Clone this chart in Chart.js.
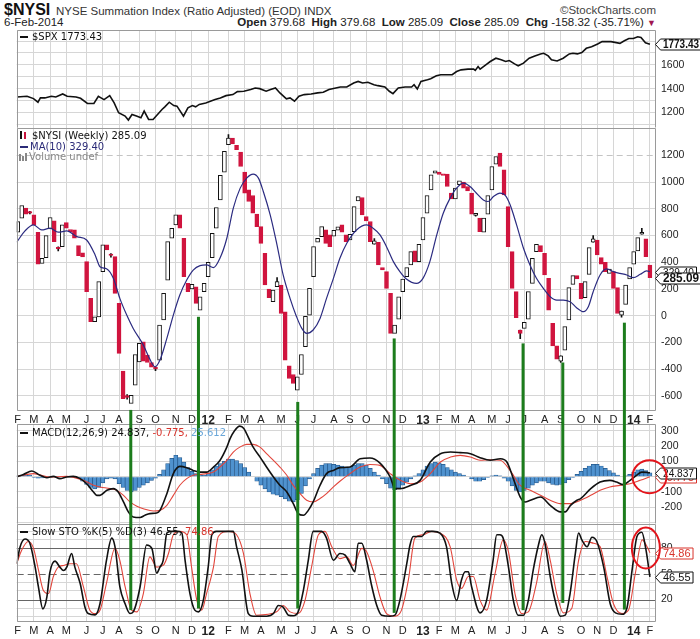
<!DOCTYPE html>
<html>
<head>
<meta charset="utf-8">
<title>$NYSI weekly</title>
<script src="https://cdn.jsdelivr.net/npm/chart.js@4.4.1/dist/chart.umd.min.js"></script>
<style>
  html, body { margin: 0; padding: 0; background: #fff; }
  body { width: 700px; height: 639px; position: relative; overflow: hidden; font-family: 'Liberation Sans', Arial, sans-serif; color: #111; }
  .panel { position: absolute; left: 0; width: 700px; }
  .txt { position: absolute; white-space: nowrap; }
  .lg { position: absolute; white-space: nowrap; font: 10px 'DejaVu Sans', sans-serif; line-height: 12px; color: #111; }
  .mark { position: absolute; }
</style>
</head>
<body>
<div class="txt" style="left:4px;top:2px;font:bold 16px/16px 'Liberation Sans',Arial,sans-serif;">$NYSI</div>
<div class="txt" style="left:56px;top:6px;font:11.5px/11.5px 'Liberation Sans',Arial,sans-serif;color:#333;">NYSE Summation Index (Ratio Adjusted) (EOD) INDX</div>
<div class="txt" style="right:44px;top:5px;font:11.5px/11.5px 'Liberation Sans',Arial,sans-serif;color:#444;">&copy;StockCharts.com</div>
<div class="txt" style="left:4px;top:17px;font:11.5px/11.5px 'Liberation Sans',Arial,sans-serif;color:#222;">6-Feb-2014</div>
<div class="txt" style="right:44px;top:17px;font:11.5px/11.5px 'Liberation Sans',Arial,sans-serif;color:#222;"><b>Open</b> 379.68 &nbsp;<b>High</b> 379.68 &nbsp;<b>Low</b> 285.09 &nbsp;<b>Close</b> 285.09 &nbsp;<b>Chg</b> -158.32 (-35.71%) <span style="color:#a0174f;font-size:9px">&#9660;</span></div>

<div class="panel" style="top:30px;height:98px"><canvas id="spx"></canvas></div>
<div class="panel" style="top:128px;height:296px"><canvas id="nysi"></canvas></div>
<div class="panel" style="top:424px;height:100px"><canvas id="macd"></canvas></div>
<div class="panel" style="top:524px;height:115px"><canvas id="sto"></canvas></div>

<div class="mark" style="left:20px;top:36px;width:8px;height:2px;background:#111"></div>
<div class="lg" style="left:32px;top:31px">$SPX 1773.43</div>

<div class="mark" style="left:20px;top:131px;width:2px;height:8px;background:#111"></div>
<div class="mark" style="left:24px;top:132px;width:2px;height:7px;background:#c8143c"></div>
<div class="lg" style="left:32px;top:130px">$NYSI (Weekly) 285.09</div>
<div class="mark" style="left:20px;top:146px;width:8px;height:2px;background:#2b2b78"></div>
<div class="lg" style="left:30px;top:141px;color:#2b2b78">MA(10) 329.40</div>
<div class="mark" style="left:19px;top:154px;width:2px;height:7px;background:#888"></div>
<div class="mark" style="left:22px;top:156px;width:2px;height:5px;background:#888"></div>
<div class="mark" style="left:25px;top:153px;width:2px;height:8px;background:#888"></div>
<div class="lg" style="left:29px;top:151px;color:#888">Volume undef</div>

<div class="mark" style="left:20px;top:432px;width:8px;height:2px;background:#111"></div>
<div class="lg" style="left:32px;top:427px">MACD(12,26,9) 24.837, <span style="color:#d8332b">-0.775,</span> <span style="color:#6aa6d8">25.612</span></div>

<div class="mark" style="left:20px;top:531px;width:8px;height:2px;background:#111"></div>
<div class="lg" style="left:32px;top:526px">Slow STO %K(5) %D(3) 46.55, <span style="color:#d8332b">74.86</span></div>

<script>
// semanas: 0 = semana del 7-feb-2011, 156 = semana del 3-feb-2014
const monthWeeks = [0, 4, 8, 12, 17, 21, 25, 30, 34, 39, 43, 47, 52, 56, 60, 65, 69, 73, 78, 82, 86, 91, 95,
  100, 104, 108, 112, 117, 121, 125, 130, 134, 139, 143, 147, 152, 156];
const monthLabels = ['F', 'M', 'A', 'M', 'J', 'J', 'A', 'S', 'O', 'N', 'D', '12', 'F', 'M', 'A', 'M', 'J', 'J', 'A', 'S', 'O', 'N', 'D',
  '13', 'F', 'M', 'A', 'M', 'J', 'J', 'A', 'S', 'O', 'N', 'D', '14', 'F'];

// $SPX
const spxWeeks = [-0.2, 2.3, 3.9, 5, 5.6, 6.7, 8.3, 9.4, 11.1, 12.2,
  14.4, 15.5, 17.2, 18.8, 19.9, 21.3, 22.7, 23.8, 24.9, 26.5,
  27.3, 28.2, 29.3, 30.4, 31.2, 32.3, 33.4, 34.5, 35.6, 36.3,
  37.4, 38.5, 39.3, 40.9, 42, 43.1, 43.9, 44.8, 46.4, 48.7,
  50, 51.4, 53.1, 54.2, 55.8, 57.5, 58.6, 59.7, 61.3, 62.4,
  63.6, 64.7, 66.3, 67.2, 68.3, 69.4, 70.7, 72.4, 74, 75.4,
  76.8, 78.5, 79.6, 81.2, 82.9, 84, 85.1, 86.4, 87.9, 88.9,
  90.6, 91.7, 92.6, 93.9, 95.6, 97.2, 97.8, 98.6, 99.5, 101.1,
  101.9, 103.3, 104.4, 106.1, 107.2, 108.3, 109.4, 111.1, 112.5, 112.9,
  113.6, 114.1, 115.5, 116.6, 118, 119.3, 120.4, 121.3, 122.6, 123.5,
  124.8, 126.2, 127.6, 129, 129.8, 130.9, 131.7, 133.1, 134.6, 136.1,
  137, 138.1, 139.2, 140.3, 141.6, 143.1, 144.2, 146.4, 148.6, 149.7,
  150.8, 151.9, 153, 153.8, 154.9, 156];
const spxValues = [1330, 1336, 1316, 1286, 1322, 1322, 1336, 1330, 1355, 1336,
  1330, 1319, 1275, 1275, 1336, 1308, 1341, 1280, 1197, 1169,
  1136, 1183, 1169, 1155, 1211, 1141, 1141, 1183, 1225, 1247,
  1286, 1258, 1253, 1169, 1239, 1258, 1247, 1267, 1280, 1308,
  1322, 1341, 1350, 1375, 1378, 1392, 1405, 1400, 1378, 1392,
  1405, 1364, 1314, 1322, 1294, 1336, 1350, 1355, 1364, 1369,
  1392, 1405, 1414, 1414, 1447, 1461, 1447, 1453, 1433, 1425,
  1414, 1378, 1358, 1405, 1414, 1414, 1433, 1397, 1461, 1475,
  1483, 1508, 1517, 1517, 1517, 1544, 1558, 1564, 1564, 1553,
  1586, 1564, 1600, 1628, 1656, 1642, 1628, 1636, 1608, 1592,
  1614, 1656, 1675, 1692, 1697, 1675, 1642, 1633, 1656, 1692,
  1697, 1692, 1703, 1739, 1753, 1775, 1795, 1795, 1781, 1803,
  1822, 1822, 1836, 1831, 1786, 1773.43];

// $NYSI velas semanales (apertura / cierre)
const nysiOpen = [625, 730, 805, 780, 755, 625, 392, 435, 650, 710,
  512, 517, 697, 645, 642, 525, 470, 405, 130, -45,
  -8, 330, 530, 462, 442, 92, -415, -598, -657, -520,
  -345, -195, -295, -350, -385, -332, -32, 267, 580, 680,
  755, 580, 242, 200, 217, 42, 180, 292, 435, 655,
  867, 1075, 1280, 1330, 1275, 1225, 1075, 942, 900, 760,
  667, 467, 200, 105, 217, 230, 30, -375, -440, -557,
  -440, -232, 5, 292, 550, 592, 642, 605, 595, 640,
  680, 605, 567, 630, 860, 885, 742, 705, 535, 550,
  360, 330, 167, -132, -25, 180, 292, 380, 485, 405,
  567, 767, 942, 1067, 1075, 1062, 1060, 917, 875, 980,
  1000, 967, 917, 750, 730, 625, 760, 942, 1135, 1217,
  1092, 817, 480, 180, -107, -95, -25, 242, 480, 525,
  467, 280, -57, -225, -340, -257, -32, 235, 300, 242,
  135, 310, 550, 567, 435, 400, 317, 330, 210, 5,
  85, 275, 385, 485, 610, 575, 379.68];
const nysiClose = [705, 825, 760, 768, 680, 385, 430, 600, 735, 555,
  500, 680, 655, 628, 580, 450, 440, 180, -45, -8,
  255, 530, 492, 452, 167, -282, -620, -612, -595, -290,
  -207, -340, -350, -385, -398, -70, 167, 555, 655, 755,
  655, 292, 180, 235, 92, 142, 242, 400, 617, 810,
  1050, 1230, 1330, 1285, 1242, 1117, 917, 855, 767, 667,
  542, 230, 135, 192, 255, 17, -332, -470, -507, -457,
  -290, 0, 205, 517, 580, 667, 542, 517, 640, 665,
  625, 555, 610, 817, 892, 755, 710, 555, 560, 380,
  342, 205, -132, -70, 142, 275, 360, 480, 405, 535,
  735, 900, 1055, 1085, 1058, 1050, 967, 875, 955, 1010,
  955, 935, 760, 767, 630, 730, 900, 1117, 1192, 1117,
  905, 517, 205, -15, -132, -50, 180, 430, 535, 480,
  305, 42, -225, -325, -300, -82, 210, 300, 275, 125,
  255, 510, 575, 455, 385, 330, 350, 205, 17, 35,
  230, 360, 480, 585, 625, 442, 285.09];
const wickWeeks = [3, 10, 23, 27, 34, 52, 64, 88, 113, 124, 134, 142, 149, 154];
const wickLow = [762, 485, 438, -625, -412, 1280, 217, 535, 745, -172, -350, 550, -10, 610];
const wickHigh = [782, 515, 465, -590, -385, 1355, 285, 578, 767, -107, -300, 600, 35, 655];

// MA(10)
const maWeeks = [-0.25, 1.8, 3.9, 5.9, 8, 10, 12.1, 14.6, 17, 19.1,
  20.3, 22, 23.6, 25.2, 26.9, 28.5, 31, 32.6, 33.9, 35.1,
  36.8, 38.4, 40, 41.7, 43.3, 45, 46.6, 48.3, 49.9, 51.6,
  53.2, 54.9, 56.5, 58.1, 59.4, 60.6, 62.3, 63.9, 65.5, 67.2,
  68.8, 70.1, 71.3, 72.9, 74.6, 76.2, 77.9, 79.5, 81.2, 83.6,
  86.1, 87.7, 89.4, 91, 92.7, 94.3, 95.9, 98.4, 100, 101.7,
  103.4, 105, 106.7, 108.3, 110, 111.6, 113.2, 114.9, 116.1, 117.4,
  119, 120.3, 121.5, 123.1, 124.8, 126.4, 128, 129.7, 131.4, 133,
  134.6, 136.3, 137.9, 139.6, 140.8, 142, 143.7, 145.3, 147, 148.6,
  150.3, 151.9, 153.6, 155.2, 156];
const maValues = [550, 635, 680, 642, 655, 625, 635, 592, 567, 455,
  367, 350, 280, 130, 5, -95, -220, -325, -382, -332,
  -170, 5, 155, 267, 342, 375, 380, 360, 430, 580,
  805, 955, 1030, 1060, 1030, 930, 755, 542, 305, 130,
  -7, -95, -132, -107, -20, 130, 280, 430, 542, 642,
  680, 655, 605, 517, 405, 330, 275, 242, 280, 405,
  605, 767, 880, 955, 992, 967, 917, 867, 855, 892,
  917, 900, 830, 680, 505, 380, 280, 205, 142, 117,
  117, 105, 60, 30, 67, 180, 305, 350, 330, 317,
  305, 285, 310, 335, 329.4];

// MACD(12,26,9)
const macdWeeks = [-0.2, 1.4, 3.5, 5.5, 7.2, 8.8, 10.4, 12.1, 13.7, 15.4,
  17, 18.7, 19.5, 20.3, 22, 23.6, 24.8, 26.1, 27.3, 28.5,
  30.2, 31.4, 32.6, 34.3, 35.1, 36.8, 38.4, 40, 41.7, 43.3,
  45, 46.6, 48.3, 49.9, 51.6, 52.4, 53.5, 54.8, 55.8, 56.5,
  58.1, 59.8, 61.4, 63.1, 64.7, 66.4, 68, 69.2, 70.5, 71.7,
  72.9, 74.6, 76.2, 77.9, 79.5, 82, 84.5, 86.9, 89.4, 91.9,
  93.1, 94.4, 96.9, 99.3, 101.8, 104.3, 106.8, 109.2, 111.7, 114.1,
  116.6, 119.1, 120.7, 122.3, 124, 125.2, 126.5, 129, 131.4, 133.9,
  135.1, 136.4, 138, 138.9, 141.4, 143.7, 146.1, 147.8, 149.4, 151.1,
  152.7, 154, 155.2, 156];
const macdValues = [0, 15, 37, 9, -7, 2, -13, -2, 2, -13,
  -46, -100, -122, -122, -89, -78, -100, -165, -230, -263,
  -267, -252, -241, -237, -220, -111, 20, 67, 59, 41,
  30, 30, 63, 106, 193, 248, 300, 330, 315, 280,
  193, 128, 63, -2, -56, -100, -176, -241, -252, -220,
  -165, -56, 20, 41, 59, 63, 117, 122, 89, -2,
  -78, -78, -57, -24, 96, 150, 161, 157, 150, 124,
  107, 117, 96, -13, -133, -165, -154, -133, -187, -230,
  -230, -187, -154, -143, -78, -35, -24, -35, -52, -24,
  9, 30, 28, 24.837];
const signalWeeks = [-0.2, 3.9, 7.8, 12.1, 16.2, 18.7, 20.3, 22.8, 24.4, 26.1,
  27.7, 29.4, 31, 33.5, 35.1, 36.8, 38.4, 40, 41.7, 43.3,
  45, 46.6, 48.3, 49.9, 51.6, 53.2, 54.8, 56.5, 58.1, 59.8,
  61.4, 63.1, 64.7, 66.4, 68, 69.7, 71.3, 72.9, 74.6, 76.2,
  77.9, 79.5, 82, 84.5, 86.9, 89.4, 91.9, 94.4, 96.9, 99.3,
  101.8, 104.3, 106.8, 109.2, 111.7, 114.1, 116.6, 119.1, 121.5, 124,
  126.5, 129, 131.4, 133.9, 136.4, 138.9, 141.4, 143.7, 146.1, 148.6,
  151.1, 153.6, 156];
const signalValues = [2, 20, -2, 2, -24, -56, -67, -78, -89, -122,
  -165, -193, -209, -224, -220, -187, -122, -56, -13, 9,
  15, 20, 30, 63, 107, 161, 193, 211, 211, 193,
  150, 107, 63, 9, -57, -111, -154, -165, -143, -111,
  -67, -30, 20, 63, 80, 74, 20, -24, -46, -35,
  20, 96, 128, 139, 128, 107, 111, 107, 41, -57,
  -89, -122, -154, -176, -176, -154, -122, -89, -67, -57,
  -46, -24, -0.775];
const histValues = [5, 10, 12, 10, -5, -10, -8, -5, 0, 3,
  -3, 2, 3, 0, -3, -10, -30, -50, -70, -80,
  -70, -40, -15, -10, -15, -45, -70, -90, -100, -90,
  -70, -55, -40, -25, -10, 15, 45, 85, 120, 140,
  125, 95, 60, 35, 20, 12, 10, 25, 45, 70,
  85, 100, 115, 115, 105, 85, 60, 30, 0, -30,
  -55, -80, -100, -115, -120, -130, -145, -160, -165, -150,
  -110, -60, -15, 20, 55, 75, 85, 85, 80, 75,
  70, 65, 60, 75, 85, 85, 75, 55, 30, 10,
  -15, -45, -75, -85, -75, -55, -35, -15, 5, 20,
  45, 70, 85, 95, 90, 80, 60, 45, 30, 20,
  10, 0, -15, -30, -30, -20, -5, 5, 10, 5,
  -10, -30, -60, -90, -100, -90, -75, -55, -40, -30,
  -30, -40, -50, -55, -50, -40, -20, -5, 15, 35,
  55, 70, 80, 80, 70, 55, 40, 25, 10, 0,
  5, 15, 30, 45, 50, 40, 25.612];

// Slow STO %K(5) %D(3)
const kWeeks = [-0.25, 0.6, 1.8, 3, 4.3, 5.1, 6.2, 7.2, 7.9, 9.2,
  10.4, 11.3, 12.1, 13.3, 14.1, 15.4, 16.6, 17.4, 19.1, 20.3,
  21.9, 23.2, 24, 25.2, 26.5, 27.7, 28.5, 30.2, 31.8, 33.1,
  34.3, 35.1, 35.9, 36.8, 38, 39.5, 40.5, 41.3, 42.5, 43.7,
  44.6, 45.8, 47, 47.9, 49, 53.2, 54, 55.3, 56.9, 58.1,
  61.4, 63.1, 64.3, 65.5, 66.8, 68, 69.2, 70.5, 71.7, 72.9,
  75, 76.2, 77.9, 79.5, 80.8, 82, 83.2, 84, 84.9, 86.1,
  87.3, 88.6, 89.8, 91.9, 93.1, 94.3, 96, 96.8, 97.6, 99.7,
  100.9, 102.5, 104.2, 105.8, 107.1, 108.3, 109.5, 110.4, 111.2, 112,
  114.1, 115.7, 117.3, 118.2, 119, 119.8, 121.1, 122.3, 123.5, 124.8,
  126, 127.2, 128.5, 129.3, 130.1, 131.4, 132.6, 133.9, 135.1, 136.3,
  137.6, 138.4, 139.2, 140.5, 141.7, 142.9, 144.6, 146.2, 147.5, 149.1,
  150.3, 151.6, 152.8, 154, 155, 156];
const kValues = [62, 82, 91, 86, 58, 35, 9, 23, 51, 65,
  58, 54, 58, 74, 58, 39, 11, 3.5, 2, 15,
  66, 92, 82, 35, 15, 3.5, 5.5, 35, 84, 80,
  51, 58, 66, 98, 100, 100, 98, 66, 27, 7.5,
  5.5, 19, 58, 96, 100, 100, 82, 55, 3.5, 0.4,
  0.4, 3.5, 13, 11, 1.6, 1, 5.5, 31, 66, 100,
  100, 92, 66, 74, 72, 62, 52.5, 86, 86, 66,
  37, 13, 1.6, 0.4, 1.6, 19, 62, 84, 94, 94,
  100, 100, 98, 82, 39, 19, 43, 52.5, 52.5, 35,
  4.3, 19, 66, 96, 96, 92, 58, 19, 1.6, 1.6,
  19, 54.5, 84, 96, 86, 47, 19, 0.4, 1.6, 27,
  74, 98, 90, 82, 93, 88, 58, 15, 4.3, 2.7,
  9.4, 54.5, 94, 99, 79, 46.55];
const dWeeks = [-0.25, 1, 2.6, 3.9, 5.1, 6.3, 7.6, 8.8, 10, 11.3,
  12.9, 14.5, 16.2, 17.8, 19.1, 20.3, 21.9, 24, 25.2, 26.5,
  28.1, 29.4, 31, 32.6, 34.3, 35.9, 37.2, 38.4, 40, 41.7,
  42.9, 44.2, 45.4, 46.6, 48.3, 49.5, 52, 54, 55.7, 57.3,
  58.9, 63.9, 65.5, 67.2, 69.2, 70.9, 72.5, 74.2, 75.8, 77.5,
  79.5, 81.2, 82.8, 84.9, 86.1, 87.8, 89.4, 91, 93.1, 94.7,
  96.4, 98, 100.1, 102.1, 104.2, 106.7, 108.3, 109.5, 111.2, 112.4,
  114.1, 115.7, 117.8, 119.8, 121.1, 122.7, 124.4, 126, 128, 130.1,
  131.4, 133, 134.7, 136.7, 138.4, 140.1, 142.1, 143.7, 145.4, 147,
  149.1, 150.7, 152.4, 154.1, 155.3, 156];
const dValues = [62, 78, 88, 80, 55, 31, 27, 47, 58, 60,
  62, 62, 35, 7.5, 3.5, 7.5, 39, 80, 66, 35,
  7.5, 5.5, 27, 70, 58, 60, 74, 96, 100, 96,
  58, 19, 7.5, 27, 58, 94, 100, 96, 74, 27,
  1.6, 5.5, 13, 5.5, 3.5, 19, 58, 96, 100, 82,
  68, 70, 60, 80, 76, 52.5, 23, 3.5, 0.4, 7.5,
  43, 92, 96, 100, 98, 82, 43, 33, 47, 47,
  19, 7.5, 50.6, 90, 76, 27, 3.5, 5.5, 39, 88,
  66, 27, 4.3, 9.4, 66, 88, 86, 82, 47, 15,
  3.5, 7.5, 50.6, 90, 82, 74.86];

// líneas verdes dibujadas a mano: semana, valor NYSI arriba, valor STO abajo
const greenWeeks = [27.9, 44.6, 69.1, 92.9, 124.7, 134.5, 149.7];
const greenTops = [-705, -8, -645, -170, -207, -350, -52];
const greenBottoms = [7.5, 9.4, 9.4, 4.3, 7.5, 16, 8.2];

// ejes
const spxTicks = [1100, 1200, 1300, 1400, 1500, 1600, 1700, 1800];
const spxTickLabels = [1200, 1400, 1600];
const nysiTicks = [-600, -400, -200, 0, 200, 400, 600, 800, 1000, 1200];
const macdTicks = [-300, -200, -100, 0, 100, 200, 300];
const macdTickLabels = [-200, -100, 0, 100, 200, 300];
const stoTicks = [0, 10, 20, 30, 40, 50, 60, 70, 80, 90, 100];
const stoTickLabels = [20, 50, 80];

const FONT = "'Liberation Sans', Arial, sans-serif";
Chart.defaults.font.family = FONT;
Chart.defaults.color = '#222';

const pts = (xs, ys) => xs.map((x, k) => ({ x: x, y: ys[k] }));
const last = arr => arr[arr.length - 1];

function weekAxis(labelHeight) {
  return {
    type: 'linear', min: -0.25, max: 157.5, offset: false,
    afterBuildTicks: s => { s.ticks = monthWeeks.map(v => ({ value: v })); },
    afterFit: s => { s.height = labelHeight; s.paddingLeft = 0; s.paddingRight = 0; },
    grid: { color: '#d6d6d6', drawTicks: false, offset: false },
    border: { display: false },
    ticks: {
      display: labelHeight > 0, autoSkip: false, maxRotation: 0, minRotation: 0, padding: 2, color: '#222',
      font: c => /\d/.test(monthLabels[c.index]) ? { family: FONT, size: 12, weight: 'bold' } : { family: FONT, size: 11 },
      callback: (v, i) => monthLabels[i]
    }
  };
}

function valueAxis(min, max, gridVals, labelVals, hideGrid) {
  return {
    position: 'right', min: min, max: max,
    afterBuildTicks: s => { s.ticks = gridVals.map(v => ({ value: v })); },
    afterFit: s => { s.width = 44; s.paddingTop = 0; s.paddingBottom = 0; },
    grid: { drawTicks: false, color: c => (c.tick && hideGrid.includes(c.tick.value)) ? 'rgba(0,0,0,0)' : '#d6d6d6' },
    border: { display: false },
    ticks: {
      autoSkip: false, padding: 5, color: '#222', font: { family: FONT, size: 10.5 },
      callback: v => labelVals.includes(v) ? String(v) : ''
    }
  };
}

function baseOptions(scales, extra) {
  return {
    responsive: true, maintainAspectRatio: false, animation: false, events: [],
    layout: { padding: { left: 16.7, right: 0, top: 0, bottom: 0 } },
    scales: scales,
    plugins: Object.assign({ legend: { display: false }, tooltip: { enabled: false } }, extra)
  };
}

// marco del panel y líneas de referencia
const panelFrame = {
  id: 'panelFrame',
  beforeDatasetsDraw(chart, args, opts) {
    const { ctx, chartArea: a, scales: { y } } = chart;
    (opts.refLines || []).forEach(r => {
      const py = Math.round(y.getPixelForValue(r.value)) + 0.5;
      ctx.save();
      ctx.strokeStyle = r.color; ctx.lineWidth = 1; ctx.setLineDash(r.dash || []);
      ctx.beginPath(); ctx.moveTo(a.left, py); ctx.lineTo(a.right, py); ctx.stroke();
      ctx.restore();
    });
  },
  afterDatasetsDraw(chart, args, opts) {
    const { ctx, chartArea: a } = chart;
    const l = Math.round(a.left) + 0.5, r = Math.round(a.right) - 0.5;
    const t = Math.round(a.top) + 0.5, b = Math.round(a.bottom) - 0.5;
    ctx.save();
    ctx.strokeStyle = '#9a9a9a'; ctx.lineWidth = 1;
    ctx.beginPath();
    ctx.moveTo(l, b); ctx.lineTo(l, t); ctx.lineTo(r, t); ctx.lineTo(r, b);
    if (opts.bottom) ctx.lineTo(l, b);
    ctx.stroke();
    ctx.restore();
  }
};

// etiquetas con el último valor en el eje derecho
const valueTags = {
  id: 'valueTags',
  afterDraw(chart, args, opts) {
    const { ctx, chartArea: a, scales: { y } } = chart;
    (opts.tags || []).forEach(t => {
      const py = Math.round(y.getPixelForValue(t.value)) + 0.5;
      const x0 = Math.round(a.right) - 0.5, x1 = x0 + 5, h = 5.5;
      ctx.save();
      ctx.font = (t.bold ? 'bold 12px ' : '11px ') + FONT;
      const maxW = t.bold ? 36 : 31;
      const w = Math.min(ctx.measureText(t.text).width, maxW);
      const x2 = x1 + w + 5;
      ctx.beginPath();
      ctx.moveTo(x0, py); ctx.lineTo(x1, py - h); ctx.lineTo(x2, py - h); ctx.lineTo(x2, py + h); ctx.lineTo(x1, py + h);
      ctx.closePath();
      ctx.fillStyle = '#fff'; ctx.fill();
      ctx.strokeStyle = t.color; ctx.lineWidth = 1; ctx.stroke();
      ctx.fillStyle = t.color; ctx.textBaseline = 'middle';
      ctx.fillText(t.text, x1 + 2.5, py + 0.5, maxW);
      ctx.restore();
    });
  }
};

// líneas verdes que cruzan los paneles
const greenMarks = {
  id: 'greenMarks',
  afterDraw(chart, args, opts) {
    if (!opts.mode) return;
    const { ctx, scales: { x, y } } = chart;
    ctx.save();
    ctx.strokeStyle = '#1c7c1c'; ctx.lineWidth = 3;
    greenWeeks.forEach((w, k) => {
      const px = x.getPixelForValue(w);
      let y0 = 0, y1 = chart.height;
      if (opts.mode === 'top') y0 = y.getPixelForValue(greenTops[k]);
      if (opts.mode === 'bottom') y1 = y.getPixelForValue(greenBottoms[k]);
      ctx.beginPath(); ctx.moveTo(px, y0); ctx.lineTo(px, y1); ctx.stroke();
    });
    ctx.restore();
  }
};

// círculos rojos
const redRing = {
  id: 'redRing',
  afterDraw(chart, args, opts) {
    if (opts.week === undefined) return;
    const { ctx, scales: { x, y } } = chart;
    ctx.save();
    ctx.strokeStyle = '#e3141b'; ctx.lineWidth = 2;
    ctx.beginPath();
    ctx.ellipse(x.getPixelForValue(opts.week), y.getPixelForValue(opts.value), opts.rx, opts.ry, 0, 0, Math.PI * 2);
    ctx.stroke();
    ctx.restore();
  }
};

const plugins = [panelFrame, valueTags, greenMarks, redRing];

// panel $SPX
new Chart(document.getElementById('spx'), {
  type: 'line',
  data: { datasets: [{ data: pts(spxWeeks, spxValues), borderColor: '#111', borderWidth: 1.6, pointRadius: 0, tension: 0 }] },
  options: baseOptions(
    { x: weekAxis(0), y: valueAxis(1069, 1893, spxTicks, spxTickLabels, []) },
    { panelFrame: {}, valueTags: { tags: [{ value: last(spxValues), text: last(spxValues).toFixed(2), color: '#111', bold: true }] } }
  ),
  plugins: plugins
});

// panel $NYSI
const up = nysiOpen.map((o, k) => nysiClose[k] >= o);
new Chart(document.getElementById('nysi'), {
  type: 'bar',
  data: {
    datasets: [
      {
        type: 'line', data: pts(maWeeks, maValues), borderColor: '#2b2b80', borderWidth: 1.2,
        pointRadius: 0, cubicInterpolationMode: 'monotone', order: 0
      },
      {
        type: 'bar', data: nysiOpen.map((o, k) => ({ x: k, y: [o, nysiClose[k]] })),
        backgroundColor: up.map(u => u ? '#ffffff' : '#d0143e'),
        borderColor: up.map(u => u ? '#111111' : '#d0143e'),
        borderWidth: 1, borderSkipped: false, barThickness: 4, grouped: false, order: 1
      },
      {
        type: 'bar', data: wickWeeks.map((w, k) => ({ x: w, y: [wickLow[k], wickHigh[k]] })),
        backgroundColor: '#111', borderWidth: 0, barThickness: 1, grouped: false, order: 2
      }
    ]
  },
  options: baseOptions(
    { x: weekAxis(13), y: valueAxis(-713, 1405, nysiTicks, nysiTicks, [1200]) },
    {
      panelFrame: { bottom: true, refLines: [{ value: 1200, color: '#c4c4c4', dash: [6, 4] }] },
      valueTags: { tags: [
        { value: last(maValues), text: last(maValues).toFixed(2), color: '#111', bold: false },
        { value: last(nysiClose), text: last(nysiClose).toFixed(2), color: '#111', bold: true }
      ] },
      greenMarks: { mode: 'top' }
    }
  ),
  plugins: plugins
});

// panel MACD
new Chart(document.getElementById('macd'), {
  type: 'bar',
  data: {
    datasets: [
      {
        type: 'line', data: pts(macdWeeks, macdValues), borderColor: '#111', borderWidth: 1.6,
        pointRadius: 0, cubicInterpolationMode: 'monotone', order: 1
      },
      {
        type: 'line', data: pts(signalWeeks, signalValues), borderColor: '#e2453b', borderWidth: 1.1,
        pointRadius: 0, cubicInterpolationMode: 'monotone', order: 2
      },
      {
        type: 'bar', data: histValues.map((v, k) => ({ x: k, y: v })),
        backgroundColor: '#4f92cf', borderColor: '#24578a', borderWidth: 0.7,
        barPercentage: 1, categoryPercentage: 1, grouped: false, order: 3
      }
    ]
  },
  options: baseOptions(
    { x: weekAxis(0), y: valueAxis(-309, 344, macdTicks, macdTickLabels, []) },
    {
      panelFrame: {},
      valueTags: { tags: [
        { value: last(signalValues), text: last(signalValues).toFixed(3), color: '#d8332b', bold: false },
        { value: last(macdValues), text: last(macdValues).toFixed(3), color: '#111', bold: false }
      ] },
      greenMarks: { mode: 'full' },
      redRing: { week: 155.9, value: 0, rx: 17, ry: 16.5 }
    }
  ),
  plugins: plugins
});

// panel Slow STO
new Chart(document.getElementById('sto'), {
  type: 'line',
  data: {
    datasets: [
      {
        data: pts(kWeeks, kValues), borderColor: '#111', borderWidth: 1.6,
        pointRadius: 0, cubicInterpolationMode: 'monotone', order: 1
      },
      {
        data: pts(dWeeks, dValues), borderColor: '#e2453b', borderWidth: 1.1,
        pointRadius: 0, cubicInterpolationMode: 'monotone', order: 2
      }
    ]
  },
  options: baseOptions(
    { x: weekAxis(17), y: valueAxis(-6.4, 108.6, stoTicks, stoTickLabels, [20, 50, 80]) },
    {
      panelFrame: { bottom: true, refLines: [
        { value: 80, color: '#666' }, { value: 20, color: '#666' }, { value: 50, color: '#666', dash: [7, 4] }
      ] },
      valueTags: { tags: [
        { value: last(dValues), text: last(dValues).toFixed(2), color: '#d8332b', bold: false },
        { value: last(kValues), text: last(kValues).toFixed(2), color: '#111', bold: false }
      ] },
      greenMarks: { mode: 'bottom' },
      redRing: { week: 155, value: 80.5, rx: 14, ry: 20.5 }
    }
  ),
  plugins: plugins
});
</script>
</body>
</html>
